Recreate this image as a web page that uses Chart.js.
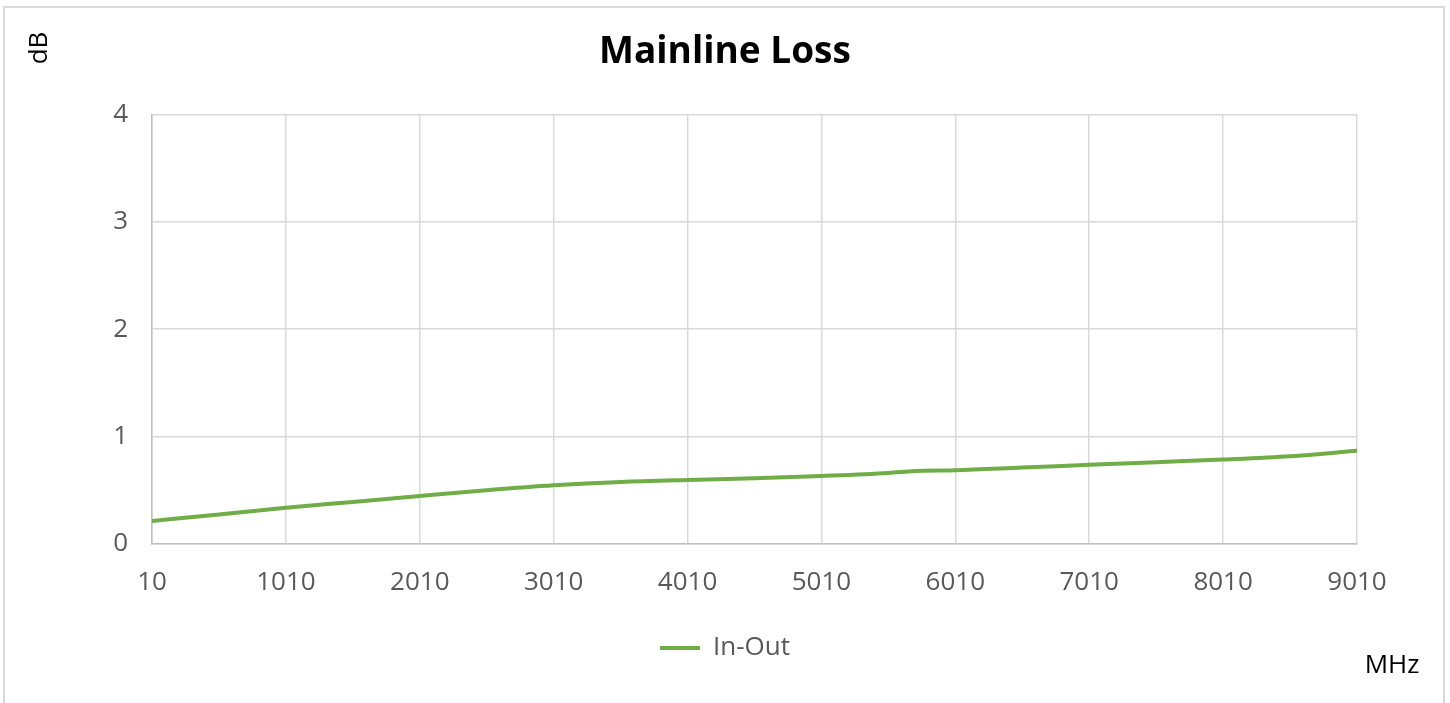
<!DOCTYPE html>
<html>
<head>
<meta charset="utf-8">
<title>Mainline Loss</title>
<script src="https://cdn.jsdelivr.net/npm/chart.js@4.4.1/dist/chart.umd.min.js"></script>
<style>
    html, body { margin: 0; padding: 0; background: #fff; }
    #wrap { position: absolute; left: 0; top: 0; width: 1450px; height: 703px; }
    #frame { position: absolute; left: 3px; top: 6px; width: 1442px; height: 710px; border: 2px solid #d9d9d9; box-sizing: border-box; }
</style>
</head>
<body>
<div id="frame"></div>
<div id="wrap"><canvas id="chart-loss"></canvas></div>
<script>
// Datos (MHz / dB)
const freqMHz = [10, 510, 1010, 1510, 2010, 2510, 3010, 3510, 4010, 4510, 5010, 5510, 5710, 6010, 6510, 7010, 7510, 8010, 8510, 9010];
const inOutLoss = [0.215, 0.275, 0.337, 0.392, 0.447, 0.500, 0.546, 0.578, 0.597, 0.612, 0.634, 0.662, 0.680, 0.687, 0.712, 0.737, 0.762, 0.787, 0.818, 0.868];
const xTicks = [10, 1010, 2010, 3010, 4010, 5010, 6010, 7010, 8010, 9010];
const yTicks = [0, 1, 2, 3, 4];

const FONT = '"Open Sans", Lato, sans-serif';

// Etiquetas de ejes "dB" y "MHz"
const axisLabels = {
    id: 'axisLabels',
    afterDraw(chart) {
        const ctx = chart.ctx;
        ctx.save();
        ctx.fillStyle = '#000';
        ctx.font = '26px ' + FONT;
        ctx.textAlign = 'center';
        ctx.textBaseline = 'middle';
        ctx.translate(40, 48);
        ctx.rotate(-Math.PI / 2);
        ctx.fillText('dB', 0, 0);
        ctx.restore();

        ctx.save();
        ctx.fillStyle = '#000';
        ctx.font = '26px ' + FONT;
        ctx.textAlign = 'center';
        ctx.textBaseline = 'middle';
        ctx.fillText('MHz', 1392, 666);
        ctx.restore();
    }
};

const chart = new Chart(document.getElementById('chart-loss'), {
    type: 'line',
    data: {
        datasets: [{
            label: 'In-Out',
            data: freqMHz.map((f, i) => ({ x: f, y: inOutLoss[i] })),
            borderColor: '#70AD47',
            backgroundColor: '#70AD47',
            borderWidth: 4,
            pointRadius: 0,
            cubicInterpolationMode: 'monotone',
            pointStyle: 'line'
        }]
    },
    options: {
        responsive: true,
        maintainAspectRatio: false,
        animation: false,
        layout: { padding: { left: 0, right: 0, top: 0, bottom: 32 } },
        plugins: {
            title: {
                display: true,
                text: 'Mainline Loss',
                color: '#000',
                font: { family: FONT, size: 37, weight: 'bold', lineHeight: 1.2 },
                padding: { top: 30, bottom: 40 }
            },
            legend: {
                position: 'bottom',
                labels: {
                    color: '#595959',
                    font: { family: FONT, size: 26 },
                    usePointStyle: true,
                    pointStyleWidth: 40,
                    padding: 10
                }
            },
            tooltip: { enabled: false }
        },
        scales: {
            x: {
                type: 'linear',
                min: 10,
                max: 9010,
                afterBuildTicks: s => { s.ticks = xTicks.map(v => ({ value: v })); },
                // hueco a la derecha del área de trazado, sin descentrar título y leyenda
                afterFit: s => { s.height = 81; s.paddingRight = 93; },
                grid: { color: '#d9d9d9', lineWidth: 1.5, drawTicks: false },
                border: { color: '#bfbfbf', width: 1.5 },
                ticks: {
                    color: '#595959',
                    font: { family: FONT, size: 26 },
                    padding: 23,
                    maxRotation: 0,
                    callback: v => String(v)
                }
            },
            y: {
                min: 0,
                max: 4,
                afterBuildTicks: s => { s.ticks = yTicks.map(v => ({ value: v })); },
                afterFit: s => { s.width = 152; },
                grid: { color: '#d9d9d9', lineWidth: 1.5, drawTicks: false },
                border: { color: '#bfbfbf', width: 1.5 },
                ticks: { color: '#595959', font: { family: FONT, size: 26 }, padding: 24 }
            }
        }
    },
    plugins: [axisLabels]
});
</script>
</body>
</html>
